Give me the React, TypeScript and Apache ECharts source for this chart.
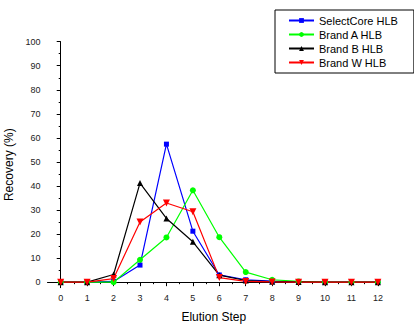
import React, { useEffect, useRef } from "react";
import * as echarts from "echarts";

const steps = [0, 1, 2, 3, 4, 5, 6, 7, 8, 9, 10, 11, 12];
const seriesNames = ["SelectCore HLB", "Brand A HLB", "Brand B HLB", "Brand W HLB"];
const selectCore = [0, 0, 0.3, 7.1, 57.4, 21.2, 3.0, 1.0, 0.4, 0.1, 0, 0, 0];
const brandA = [0, 0, 0, 9.3, 18.6, 38.2, 18.7, 4.2, 1.0, 0.3, 0, 0, 0];
const brandB = [0, 0, 3.2, 41.2, 26.5, 16.8, 2.9, 0.7, 0.2, 0.1, 0, 0, 0];
const brandW = [0, 0, 1.5, 25.0, 32.9, 29.3, 1.9, 0.3, 0.1, 0, 0, 0, 0];
const yTicks = [0, 10, 20, 30, 40, 50, 60, 70, 80, 90, 100];
const yMinorTicks = [5, 15, 25, 35, 45, 55, 65, 75, 85, 95];
const xMinorTicks = [0.5, 1.5, 2.5, 3.5, 4.5, 5.5, 6.5, 7.5, 8.5, 9.5, 10.5, 11.5];

const FONT = "Liberation Sans, Arial, sans-serif";

export default function App() {
  const ref = useRef<HTMLDivElement>(null);
  useEffect(() => {
    if (!ref.current) return;
    const chart = echarts.init(ref.current, undefined, { renderer: "svg" });
    const valuesList = [selectCore, brandA, brandB, brandW];
    const colors = ["#0000ff", "#00ff00", "#000000", "#ff0000"];
    const symbols = ["rect", "circle", "triangle", "triangle"];
    const rotates = [0, 0, 0, 180];
    const sizes = [5, 6, 6, 7];
    const axisLine = { show: true, lineStyle: { color: "#000", width: 1 } };
    const xMin = -0.5;
    const xMax = 12.08;
    const yMin = -2.3;
    const yMax = 100;
    chart.setOption({
      animation: false,
      backgroundColor: "#fff",
      textStyle: { fontFamily: FONT },
      grid: { left: 47.5, right: 34, top: 41.7, bottom: 37.3, containLabel: false, outerBoundsMode: "none" },
      legend: {
        orient: "vertical",
        left: 275,
        top: 10,
        padding: [5, 16, 5, 13],
        borderColor: "#000",
        borderWidth: 1,
        backgroundColor: "#fff",
        itemWidth: 25,
        itemHeight: 6,
        itemGap: 3,
        textStyle: { fontSize: 11, color: "#000", fontFamily: FONT },
        data: seriesNames,
      },
      xAxis: [
        {
          type: "value",
          min: xMin,
          max: xMax,
          name: "Elution Step",
          nameLocation: "middle",
          nameGap: 23,
          nameTextStyle: { fontSize: 12, color: "#000", fontFamily: FONT },
          axisLine,
          splitLine: { show: false },
          axisTick: { show: true, inside: false, length: 4, customValues: steps, lineStyle: { color: "#000" } },
          axisLabel: { customValues: steps, fontSize: 9, color: "#222", margin: 6, fontFamily: FONT },
        },
        {
          type: "value",
          min: xMin,
          max: xMax,
          position: "bottom",
          axisLine: { show: false },
          splitLine: { show: false },
          axisTick: { show: true, inside: false, length: 2, customValues: xMinorTicks, lineStyle: { color: "#000" } },
          axisLabel: { show: false },
        },
      ],
      yAxis: [
        {
          type: "value",
          min: yMin,
          max: yMax,
          name: "Recovery (%)",
          nameLocation: "middle",
          nameGap: 27,
          nameTextStyle: { fontSize: 12, color: "#000", fontFamily: FONT },
          axisLine,
          splitLine: { show: false },
          axisTick: { show: true, inside: false, length: 4, customValues: yTicks, lineStyle: { color: "#000" } },
          axisLabel: { customValues: yTicks, fontSize: 9, color: "#222", margin: 7, fontFamily: FONT },
        },
        {
          type: "value",
          min: yMin,
          max: yMax,
          position: "left",
          axisLine: { show: false },
          splitLine: { show: false },
          axisTick: { show: true, inside: false, length: 2, customValues: yMinorTicks, lineStyle: { color: "#000" } },
          axisLabel: { show: false },
        },
      ],
      series: seriesNames.map((name, i) => ({
        name,
        type: "line",
        xAxisIndex: 0,
        yAxisIndex: 0,
        data: steps.map((s, j) => [s, valuesList[i][j]]),
        symbol: symbols[i],
        symbolRotate: rotates[i],
        symbolSize: sizes[i],
        showAllSymbol: true,
        color: colors[i],
        lineStyle: { color: colors[i], width: 1.2 },
        itemStyle: { color: colors[i] },
        emphasis: { disabled: true },
      })),
    });
    return () => chart.dispose();
  }, []);
  return (
    <div
      ref={ref}
      style={{ position: "absolute", left: 0, top: 0, width: 414, height: 325 }}
    />
  );
}
